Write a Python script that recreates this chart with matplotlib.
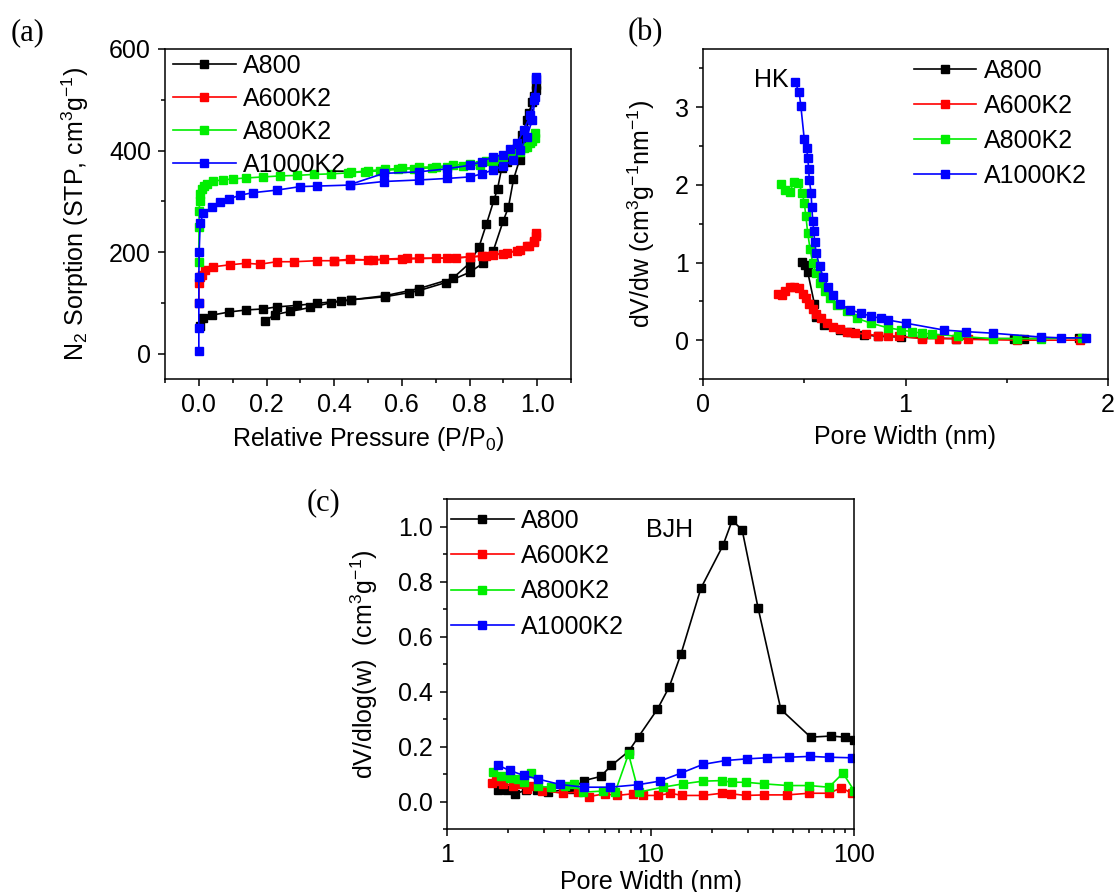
import numpy as np
import matplotlib
matplotlib.use("Agg")
import matplotlib.pyplot as plt
from matplotlib.ticker import MultipleLocator, FixedLocator, NullFormatter

plt.rcParams['font.family'] = ['Liberation Sans', 'DejaVu Sans']
plt.rcParams['mathtext.fontset'] = 'custom'
plt.rcParams['mathtext.rm'] = 'Liberation Sans'
plt.rcParams['mathtext.it'] = 'Liberation Sans:italic'
plt.rcParams['mathtext.bf'] = 'Liberation Sans:bold'

labels = ['A800', 'A600K2', 'A800K2', 'A1000K2']
colors = ['#000000', '#ff0000', '#00ee00', '#0000ff']

# ---- (a) N2 isotherms: adsorption (ads) and desorption (des) branches ----
a800_ads_p = [0.003, 0.013, 0.04, 0.09, 0.14, 0.19, 0.23, 0.29, 0.35, 0.42, 0.45, 0.55, 0.62, 0.65,
              0.73, 0.80, 0.84, 0.87, 0.90, 0.915, 0.93, 0.948, 0.964, 0.977, 0.99, 0.997]
a800_ads_v = [55, 70, 76, 82, 86, 88, 92, 95, 99, 104, 106, 112, 120, 124,
              140, 160, 178, 202, 262, 288, 343, 382, 421, 474, 507, 530]
a800_des_p = [0.997, 0.985, 0.97, 0.955, 0.94, 0.925, 0.91, 0.895, 0.883, 0.872, 0.85, 0.828,
              0.80, 0.75, 0.65, 0.55, 0.45, 0.39, 0.33, 0.27, 0.225, 0.195]
a800_des_v = [520, 495, 460, 430, 405, 390, 378, 365, 325, 302, 255, 210,
              178, 148, 128, 114, 106, 100, 91, 83, 77, 64]

a600k2_ads_p = [0.0, 0.0005, 0.002, 0.009, 0.018, 0.043, 0.092, 0.14, 0.18, 0.23, 0.28, 0.35, 0.40,
                0.447, 0.516, 0.546, 0.615, 0.65, 0.733, 0.76, 0.80, 0.837, 0.87, 0.91, 0.95,
                0.975, 0.99, 0.998]
a600k2_ads_v = [100, 140, 150, 155, 165, 171, 175, 178, 176, 181, 181, 183, 183,
                186, 184, 186, 188, 188, 188, 188, 191, 192, 195, 199, 204,
                211, 220, 237]
a600k2_des_p = [0.998, 0.99, 0.97, 0.94, 0.90, 0.85, 0.80, 0.70, 0.60, 0.50, 0.40]
a600k2_des_v = [232, 222, 212, 202, 197, 193, 190, 188, 186, 185, 183]

a800k2_ads_p = [0.0, 0.0005, 0.001, 0.002, 0.004, 0.008, 0.015, 0.025, 0.043, 0.07, 0.10, 0.14,
                0.19, 0.24, 0.29, 0.34, 0.39, 0.44, 0.49, 0.536, 0.59, 0.635, 0.69, 0.733, 0.78,
                0.832, 0.87, 0.891, 0.93, 0.95, 0.97, 0.985, 0.995]
a800k2_ads_v = [180, 250, 280, 300, 315, 325, 330, 335, 340, 342, 344, 346,
                348, 350, 351, 353, 354, 356, 358, 360, 363, 364, 366, 367, 369,
                372, 378, 383, 391, 398, 407, 418, 435]
a800k2_des_p = [0.995, 0.98, 0.96, 0.93, 0.90, 0.85, 0.80, 0.75, 0.70, 0.65, 0.60, 0.55, 0.50, 0.45]
a800k2_des_v = [425, 415, 405, 395, 388, 380, 374, 371, 368, 367, 365, 363, 360, 357]

a1000k2_ads_p = [0.0, 0.0, 0.0, 0.0, 0.001, 0.004, 0.013, 0.038, 0.063, 0.09, 0.122, 0.16, 0.23,
                 0.30, 0.35, 0.447, 0.546, 0.65, 0.733, 0.80, 0.837, 0.87, 0.90, 0.93, 0.95,
                 0.97, 0.985, 0.995, 0.998]
a1000k2_ads_v = [5, 50, 100, 150, 200, 257, 276, 289, 299, 305, 312, 317, 322,
                 329, 330, 332, 339, 342, 345, 348, 354, 362, 370, 381, 401,
                 427, 460, 506, 545]
a1000k2_des_p = [0.998, 0.99, 0.98, 0.96, 0.94, 0.92, 0.90, 0.87, 0.837, 0.80, 0.733, 0.65, 0.546, 0.447]
a1000k2_des_v = [540, 500, 470, 440, 414, 404, 391, 388, 378, 371, 364, 358, 355, 333]

# ---- (b) HK pore size distribution ----
hk_a800_w = [0.49, 0.505, 0.517, 0.55, 0.56, 0.596, 0.677, 0.727, 0.795, 0.862, 0.98, 1.08,
             1.25, 1.535, 1.586, 1.855]
hk_a800_v = [1.01, 0.97, 0.88, 0.47, 0.30, 0.19, 0.13, 0.11, 0.07, 0.05, 0.04, 0.03,
             0.02, 0.02, 0.02, 0.03]
hk_a600k2_w = [0.37, 0.39, 0.407, 0.428, 0.45, 0.475, 0.492, 0.508, 0.525, 0.542, 0.559, 0.584,
               0.61, 0.643, 0.677, 0.71, 0.753, 0.803, 0.862, 0.912, 0.97, 1.08, 1.165, 1.25,
               1.31, 1.55, 1.86]
hk_a600k2_v = [0.60, 0.58, 0.63, 0.68, 0.69, 0.67, 0.60, 0.54, 0.47, 0.40, 0.34, 0.28,
               0.22, 0.17, 0.14, 0.11, 0.09, 0.08, 0.06, 0.06, 0.05, 0.02, 0.02, 0.02,
               0.01, 0.0, 0.0]
hk_a800k2_w = [0.387, 0.407, 0.428, 0.45, 0.47, 0.49, 0.50, 0.508, 0.517, 0.529, 0.542, 0.559,
               0.576, 0.601, 0.626, 0.66, 0.71, 0.761, 0.828, 0.912, 0.98, 1.03, 1.08, 1.13,
               1.26, 1.43, 1.55, 1.67, 1.87]
hk_a800k2_v = [2.01, 1.94, 1.91, 2.04, 2.03, 1.90, 1.77, 1.60, 1.38, 1.17, 0.99, 0.86,
               0.74, 0.63, 0.54, 0.45, 0.37, 0.28, 0.22, 0.16, 0.13, 0.11, 0.09, 0.08,
               0.05, 0.02, 0.02, 0.02, 0.03]
hk_a1000k2_w = [0.455, 0.475, 0.483, 0.50, 0.512, 0.517, 0.522, 0.525, 0.534, 0.537, 0.542, 0.547,
                0.552, 0.559, 0.576, 0.593, 0.618, 0.643, 0.677, 0.727, 0.778, 0.828, 0.879, 0.912,
                1.0, 1.19, 1.30, 1.43, 1.67, 1.77, 1.89]
hk_a1000k2_v = [3.32, 3.19, 3.02, 2.59, 2.47, 2.35, 2.21, 2.06, 1.90, 1.72, 1.54, 1.40,
                1.26, 1.12, 0.95, 0.82, 0.69, 0.58, 0.47, 0.39, 0.35, 0.31, 0.28, 0.26,
                0.22, 0.13, 0.11, 0.09, 0.04, 0.03, 0.03]

# ---- (c) BJH pore size distribution ----
bjh_a800_w = [1.78, 1.97, 2.17, 2.45, 2.76, 3.12, 4.1, 4.71, 5.69, 6.42, 7.80, 8.74, 10.8, 12.35,
              14.1, 17.7, 22.7, 25.2, 28.2, 33.8, 43.7, 61.2, 76.8, 90.0, 100.0]
bjh_a800_v = [0.042, 0.042, 0.028, 0.042, 0.042, 0.034, 0.046, 0.076, 0.091, 0.131, 0.182, 0.236,
              0.335, 0.416, 0.535, 0.776, 0.931, 1.022, 0.988, 0.703, 0.335, 0.234, 0.238, 0.234, 0.224]
bjh_a600k2_w = [1.67, 1.74, 1.89, 2.10, 2.24, 2.48, 2.64, 2.93, 3.70, 4.38, 4.96, 5.97, 6.84, 8.17,
                9.2, 10.9, 12.5, 14.3, 18.1, 22.4, 24.9, 29.3, 36.3, 46.8, 60.1, 75.3, 86.8, 97.4]
bjh_a600k2_v = [0.067, 0.076, 0.064, 0.058, 0.064, 0.046, 0.055, 0.040, 0.030, 0.034, 0.018, 0.028,
                0.022, 0.028, 0.022, 0.022, 0.030, 0.022, 0.022, 0.030, 0.028, 0.022, 0.024, 0.024,
                0.030, 0.030, 0.050, 0.030]
bjh_a800k2_w = [1.69, 1.85, 2.04, 2.24, 2.40, 2.59, 2.81, 3.26, 3.78, 4.19, 4.66, 5.85, 6.70, 7.80,
                8.74, 11.5, 14.4, 18.1, 22.4, 25.2, 29.3, 36.3, 47.4, 60.1, 75.3, 88.3, 100.0]
bjh_a800k2_v = [0.107, 0.091, 0.086, 0.082, 0.070, 0.103, 0.055, 0.052, 0.055, 0.062, 0.034, 0.038,
                0.034, 0.173, 0.034, 0.052, 0.064, 0.074, 0.076, 0.070, 0.070, 0.064, 0.058, 0.058,
                0.052, 0.103, 0.040]
bjh_a1000k2_w = [1.79, 2.03, 2.38, 2.79, 3.59, 4.71, 6.32, 8.67, 11.1, 14.1, 18.1, 23.4, 29.7, 37.3,
                 48.0, 60.7, 75.3, 97.4]
bjh_a1000k2_v = [0.131, 0.113, 0.095, 0.082, 0.062, 0.052, 0.052, 0.061, 0.074, 0.103, 0.135, 0.149,
                 0.155, 0.159, 0.161, 0.164, 0.161, 0.159]

FS = 18
W, H = 1116, 892
fig = plt.figure(figsize=(W / 100, H / 100), dpi=100)


def px_axes(left, top, right, bottom):
    return fig.add_axes([left / W, 1 - bottom / H, (right - left) / W, (bottom - top) / H])


def style(ax):
    for s in ax.spines.values():
        s.set_linewidth(1.1)
    ax.tick_params(which='both', direction='out', top=False, right=False,
                   labelsize=FS, width=1.1, pad=5)
    ax.tick_params(which='major', length=5)
    ax.tick_params(which='minor', length=3)


def legend(ax, x, y, spacing):
    ax.legend(loc='upper left', bbox_to_anchor=(x, y), frameon=False, fontsize=FS,
              handlelength=2.5, handletextpad=0.3, labelspacing=spacing, borderaxespad=0,
              borderpad=0)


# (a)
ax1 = px_axes(165, 49, 571, 379)
iso = [(a800_ads_p, a800_ads_v, a800_des_p, a800_des_v),
       (a600k2_ads_p, a600k2_ads_v, a600k2_des_p, a600k2_des_v),
       (a800k2_ads_p, a800k2_ads_v, a800k2_des_p, a800k2_des_v),
       (a1000k2_ads_p, a1000k2_ads_v, a1000k2_des_p, a1000k2_des_v)]
for (ap, av, dp, dv), c, lab in zip(iso, colors, labels):
    ax1.plot(ap, av, '-s', color=c, lw=1.2, ms=5.3, label=lab)
    ax1.plot(dp, dv, '-s', color=c, lw=1.2, ms=5.3)
ax1.set_xlim(-0.1, 1.1)
ax1.set_ylim(-50, 600)
ax1.xaxis.set_major_locator(FixedLocator([0, 0.2, 0.4, 0.6, 0.8, 1.0]))
ax1.xaxis.set_minor_locator(MultipleLocator(0.1))
ax1.yaxis.set_major_locator(FixedLocator([0, 200, 400, 600]))
ax1.yaxis.set_minor_locator(MultipleLocator(100))
style(ax1)
ax1.set_xlabel('Relative Pressure (P/P$_0$)', fontsize=FS, labelpad=6)
ax1.set_ylabel('N$_2$ Sorption (STP, cm$^3$g$^{-1}$)', fontsize=FS, labelpad=13)
legend(ax1, 0.02, 0.985, 0.36)

# (b)
ax2 = px_axes(703, 49, 1108, 379)
hk = [(hk_a800_w, hk_a800_v), (hk_a600k2_w, hk_a600k2_v),
      (hk_a800k2_w, hk_a800k2_v), (hk_a1000k2_w, hk_a1000k2_v)]
for (w, v), c, lab in zip(hk, colors, labels):
    ax2.plot(w, v, '-s', color=c, lw=1.2, ms=5.3, label=lab)
ax2.set_xlim(0, 2)
ax2.set_ylim(-0.5, 3.75)
ax2.xaxis.set_major_locator(FixedLocator([0, 1, 2]))
ax2.xaxis.set_minor_locator(MultipleLocator(0.5))
ax2.yaxis.set_major_locator(FixedLocator([0, 1, 2, 3]))
ax2.yaxis.set_minor_locator(MultipleLocator(0.5))
style(ax2)
ax2.set_xlabel('Pore Width (nm)', fontsize=FS, labelpad=6)
ax2.set_ylabel('dV/dw (cm$^3$g$^{-1}$nm$^{-1}$)', fontsize=FS, labelpad=13)
legend(ax2, 0.52, 0.97, 0.44)
ax2.text(0.125, 0.905, 'HK', transform=ax2.transAxes, fontsize=FS, va='center', ha='left')

# (c)
ax3 = px_axes(447, 499, 854, 829)
bjh = [(bjh_a800_w, bjh_a800_v), (bjh_a600k2_w, bjh_a600k2_v),
       (bjh_a800k2_w, bjh_a800k2_v), (bjh_a1000k2_w, bjh_a1000k2_v)]
for (w, v), c, lab in zip(bjh, colors, labels):
    ax3.plot(w, v, '-s', color=c, lw=1.2, ms=6, label=lab)
ax3.set_xscale('log')
ax3.set_xlim(1, 100)
ax3.set_ylim(-0.1, 1.1)
ax3.xaxis.set_major_locator(FixedLocator([1, 10, 100]))
ax3.set_xticklabels(['1', '10', '100'])
ax3.xaxis.set_minor_locator(FixedLocator([2, 3, 4, 5, 6, 7, 8, 9, 20, 30, 40, 50, 60, 70, 80, 90]))
ax3.xaxis.set_minor_formatter(NullFormatter())
ax3.yaxis.set_major_locator(FixedLocator([0, 0.2, 0.4, 0.6, 0.8, 1.0]))
ax3.yaxis.set_minor_locator(MultipleLocator(0.1))
ax3.set_yticklabels(['0.0', '0.2', '0.4', '0.6', '0.8', '1.0'])
style(ax3)
ax3.set_xlabel('Pore Width (nm)', fontsize=FS, labelpad=2)
ax3.set_ylabel('dV/dlog(w)  (cm$^3$g$^{-1}$)', fontsize=FS, labelpad=13)
legend(ax3, 0.01, 0.97, 0.45)
ax3.text(0.49, 0.905, 'BJH', transform=ax3.transAxes, fontsize=FS, va='center', ha='left')

# panel labels
for x, y, t in [(11, 33, '(a)'), (628, 33, '(b)'), (307, 503, '(c)')]:
    fig.text(x / W, 1 - y / H, t, fontsize=22, family='Liberation Serif', va='center', ha='left')

fig.savefig('out.png', dpi=100)
